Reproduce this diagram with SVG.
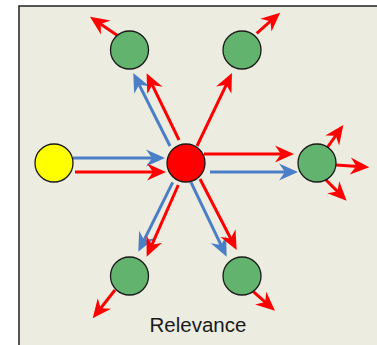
<svg xmlns="http://www.w3.org/2000/svg" width="377" height="345" viewBox="0 0 377 345">
<defs>
<style>
.bg{fill:#ECECE0;stroke:#222;stroke-width:1.5}
.n{stroke:#1a1a1a;stroke-width:1.3}
.g{fill:#62B36E}
.r{stroke:#FF0000;stroke-width:3;fill:none;marker-end:url(#mr)}
.b{stroke:#4A7EC6;stroke-width:3;fill:none;marker-end:url(#mb)}
.t{font-family:"Liberation Sans",Arial,sans-serif;font-size:20.5px;fill:#1a1a1a;text-anchor:middle}
</style>
<marker id="mr" markerUnits="userSpaceOnUse" markerWidth="24" markerHeight="20" refX="8" refY="10" orient="auto" overflow="visible"><path d="M0,1.5 L19,10 L0,18.5 L6,10 Z" fill="#FF0000"/></marker>
<marker id="mb" markerUnits="userSpaceOnUse" markerWidth="24" markerHeight="20" refX="8" refY="10" orient="auto" overflow="visible"><path d="M0,1.5 L19,10 L0,18.5 L6,10 Z" fill="#4A7EC6"/></marker>
</defs>
<rect class="bg" x="19" y="6" width="370" height="350"/>
<g id="connectors">
<line class="b" x1="73" y1="158" x2="154" y2="158"/>
<line class="r" x1="75" y1="172" x2="155" y2="172"/>
<line class="r" x1="204" y1="154" x2="283" y2="154"/>
<line class="b" x1="210" y1="172" x2="287" y2="172"/>
<line class="b" x1="170" y1="146" x2="138.2" y2="82.9"/>
<line class="r" x1="179" y1="140" x2="151.4" y2="83.2"/>
<line class="r" x1="197" y1="146" x2="227.2" y2="82.9"/>
<line class="b" x1="172.7" y1="182.3" x2="143.2" y2="241.8"/>
<line class="r" x1="178.3" y1="185" x2="151.1" y2="246.6"/>
<line class="b" x1="191" y1="182.3" x2="221.9" y2="246.8"/>
<line class="r" x1="200" y1="179" x2="231.6" y2="240.2"/>
<line class="r" x1="119.3" y1="36.7" x2="99.1" y2="22.9"/>
<line class="r" x1="256.7" y1="33.3" x2="271.9" y2="19.9"/>
<line class="r" x1="326.7" y1="148.3" x2="336.9" y2="134"/>
<line class="r" x1="336" y1="165" x2="358.3" y2="166.5"/>
<line class="r" x1="324.3" y1="178.3" x2="338.9" y2="192.9"/>
<line class="r" x1="115" y1="290" x2="99.5" y2="309.7"/>
<line class="r" x1="253.3" y1="291.7" x2="266.7" y2="303.4"/>
</g>
<g id="source"><circle class="n" cx="54" cy="163" r="19" fill="#FFFF00"/></g>
<g id="center"><circle class="n" cx="186" cy="163" r="19" fill="#FF0000"/></g>
<g id="top-left"><circle class="n g" cx="129.5" cy="50" r="19"/></g>
<g id="top-right"><circle class="n g" cx="242" cy="50" r="19"/></g>
<g id="right"><circle class="n g" cx="317" cy="163" r="19"/></g>
<g id="bottom-left"><circle class="n g" cx="129.5" cy="276" r="19"/></g>
<g id="bottom-right"><circle class="n g" cx="242" cy="276" r="19"/></g>
<g id="label"><text class="t" x="198" y="332">Relevance</text></g>
</svg>
